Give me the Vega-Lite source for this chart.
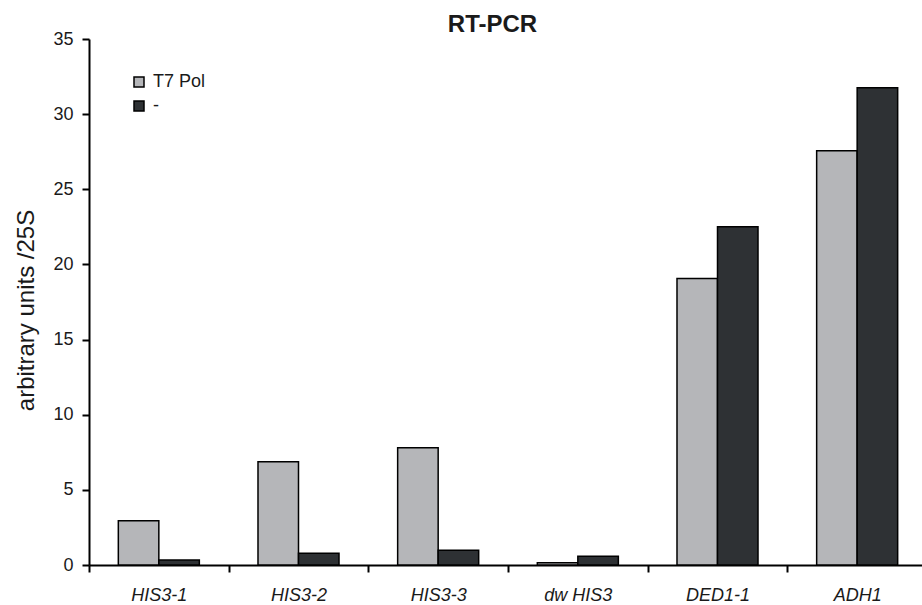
{
  "$schema": "https://vega.github.io/schema/vega-lite/v6.json",
  "autosize": "none",
  "width": 833,
  "height": 526,
  "padding": {"left": 89, "top": 39, "right": 0, "bottom": 40},
  "background": "white",
  "title": {"text": "RT-PCR", "fontSize": 24, "fontWeight": "bold", "font": "Liberation Sans", "color": "#1a1a1a", "anchor": "middle", "offset": 4, "dy": 11, "dx": -13},
  "data": {"values": [
    {"gene": "HIS3-1", "cond": "T7 Pol", "value": 2.95},
    {"gene": "HIS3-1", "cond": "-", "value": 0.33},
    {"gene": "HIS3-2", "cond": "T7 Pol", "value": 6.87},
    {"gene": "HIS3-2", "cond": "-", "value": 0.78},
    {"gene": "HIS3-3", "cond": "T7 Pol", "value": 7.8},
    {"gene": "HIS3-3", "cond": "-", "value": 0.98},
    {"gene": "dw HIS3", "cond": "T7 Pol", "value": 0.15},
    {"gene": "dw HIS3", "cond": "-", "value": 0.58},
    {"gene": "DED1-1", "cond": "T7 Pol", "value": 19.07},
    {"gene": "DED1-1", "cond": "-", "value": 22.5},
    {"gene": "ADH1", "cond": "T7 Pol", "value": 27.57},
    {"gene": "ADH1", "cond": "-", "value": 31.75}
  ]},
  "mark": {"type": "bar", "stroke": "black", "strokeWidth": 1.5},
  "encoding": {
    "x": {
      "field": "gene", "type": "nominal", "sort": null,
      "scale": {"paddingInner": 0, "paddingOuter": 0, "range": [0, 838]},
      "axis": {
        "title": null, "labelAngle": 0, "labelFont": "Liberation Sans", "labelFontSize": 18, "labelFontStyle": "italic", "labelColor": "#1a1a1a",
        "labelPadding": 14, "tickBand": "extent", "tickSize": 7, "tickWidth": 2, "tickColor": "black", "domainColor": "black", "domainWidth": 2, "grid": false
      }
    },
    "xOffset": {"field": "cond", "type": "nominal", "sort": ["T7 Pol", "-"], "scale": {"paddingInner": 0, "paddingOuter": 0.724}},
    "y": {
      "field": "value", "type": "quantitative",
      "scale": {"domain": [0, 35], "nice": false},
      "axis": {
        "title": "arbitrary units /25S", "titleFont": "Liberation Sans", "titleFontSize": 24, "titleFontWeight": "normal", "titleColor": "#1a1a1a",
        "titleAngle": -90, "titleX": -56, "titleY": 271, "titleAlign": "center", "titleBaseline": "alphabetic",
        "values": [0, 5, 10, 15, 20, 25, 30, 35], "labelFont": "Liberation Sans", "labelFontSize": 18, "labelColor": "#1a1a1a", "labelPadding": 9,
        "tickSize": 7, "tickWidth": 2, "tickColor": "black", "domainColor": "black", "domainWidth": 2, "grid": false
      }
    },
    "fill": {
      "field": "cond", "type": "nominal", "sort": ["T7 Pol", "-"],
      "scale": {"domain": ["T7 Pol", "-"], "range": ["#b5b6b9", "#2e3134"]},
      "legend": {
        "title": null, "orient": "none", "legendX": 41, "legendY": 34, "padding": 0,
        "symbolType": "square", "symbolSize": 100, "symbolStrokeColor": "black", "symbolStrokeWidth": 1.5,
        "labelFont": "Liberation Sans", "labelFontSize": 18, "labelColor": "#1a1a1a", "labelOffset": 5, "rowPadding": 6
      }
    }
  },
  "config": {"view": {"stroke": null}}
}
